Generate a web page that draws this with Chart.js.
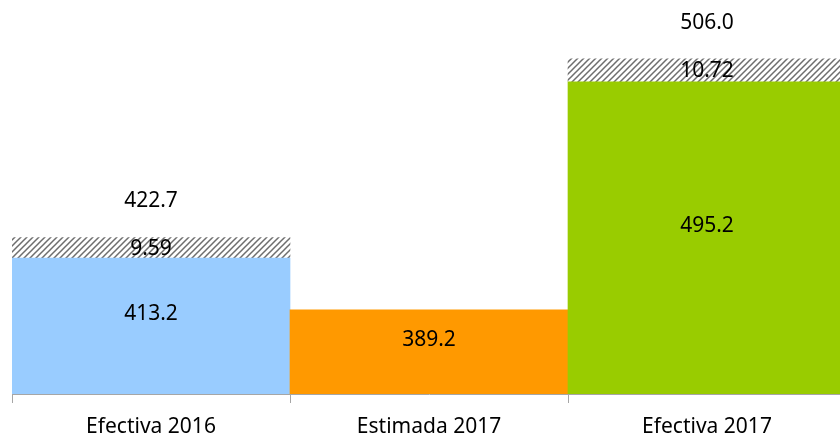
<!DOCTYPE html>
<html>
<head>
<meta charset="utf-8">
<script src="https://cdn.jsdelivr.net/npm/chart.js@4"></script>
<style>
  html, body { margin: 0; padding: 0; background: #fff; overflow: hidden; }
  #wrap { width: 840px; height: 434px; overflow: hidden; }
  canvas { display: block; }
</style>
</head>
<body>
<div id="wrap"><canvas id="chart" width="846" height="434"></canvas></div>
<script>
const categories = ['Efectiva 2016', 'Estimada 2017', 'Efectiva 2017'];
const baseValues = [413.2, 389.2, 495.2];
const extraValues = [9.59, null, 10.72];
const totalLabels = ['422.7', null, '506.0'];
const barColors = ['#99CCFF', '#FF9900', '#99CC00'];

const fontFamily = '"Noto Sans", "Open Sans", sans-serif';

function makeHatch() {
    const c = document.createElement('canvas');
    c.width = 6;
    c.height = 6;
    const g = c.getContext('2d');
    g.fillStyle = '#fff';
    g.fillRect(0, 0, 6, 6);
    g.strokeStyle = '#6e6e6e';
    g.lineWidth = 1.5;
    g.beginPath();
    g.moveTo(-1, 7); g.lineTo(7, -1);
    g.moveTo(-4, 4); g.lineTo(4, -4);
    g.moveTo(2, 10); g.lineTo(10, 2);
    g.stroke();
    return g.createPattern(c, 'repeat');
}

const labelsPlugin = {
    id: 'barLabels',
    afterDatasetsDraw(chart) {
        const ctx = chart.ctx;
        const bottom = chart.chartArea.bottom;
        ctx.save();
        ctx.fillStyle = '#000';
        ctx.font = '21px ' + fontFamily;
        ctx.textAlign = 'center';
        ctx.textBaseline = 'middle';
        chart.getDatasetMeta(0).data.forEach((bar, i) => {
            const base = Math.min(bar.base, bottom);
            ctx.fillText(baseValues[i].toFixed(1), bar.x, (bar.y + base) / 2 - 12);
        });
        chart.getDatasetMeta(1).data.forEach((bar, i) => {
            if (extraValues[i] == null) return;
            ctx.fillText(extraValues[i].toFixed(2), bar.x, (bar.y + bar.base) / 2 + 1);
            ctx.fillText(totalLabels[i], bar.x, bar.y - 36);
        });
        ctx.restore();
    }
};

const ctx = document.getElementById('chart').getContext('2d');
new Chart(ctx, {
    type: 'bar',
    data: {
        labels: categories,
        datasets: [{
            data: baseValues,
            backgroundColor: barColors,
            borderWidth: 0
        }, {
            data: extraValues,
            backgroundColor: makeHatch(),
            borderWidth: 0
        }]
    },
    options: {
        responsive: false,
        animation: false,
        barPercentage: 1,
        categoryPercentage: 1,
        layout: { padding: { left: 12, right: 0, top: 7, bottom: 0 } },
        plugins: {
            legend: { display: false },
            tooltip: { enabled: false }
        },
        scales: {
            x: {
                stacked: true,
                grid: {
                    offset: true,
                    drawOnChartArea: false,
                    tickLength: 9,
                    color: '#A6A6A6'
                },
                border: { color: '#A6A6A6', width: 1 },
                ticks: {
                    color: '#000',
                    font: { size: 21, family: fontFamily },
                    padding: 11
                },
                afterFit(scale) { scale.height = 40; }
            },
            y: {
                stacked: true,
                display: false,
                min: 350,
                max: 530
            }
        }
    },
    plugins: [labelsPlugin]
});
</script>
</body>
</html>
